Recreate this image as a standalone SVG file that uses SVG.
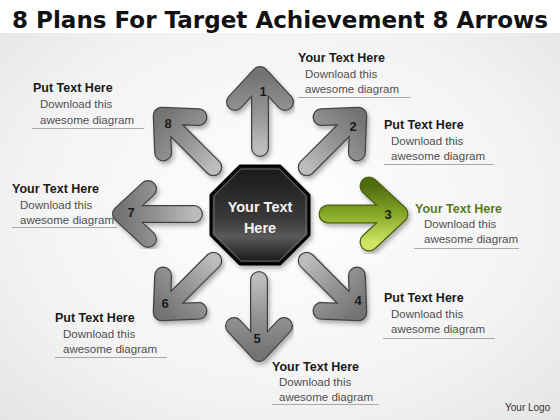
<svg xmlns="http://www.w3.org/2000/svg" width="560" height="420" viewBox="0 0 560 420">
<defs>
<radialGradient id="bg" cx="0.5" cy="0.5" r="0.75">
<stop offset="0" stop-color="#ffffff"/>
<stop offset="0.6" stop-color="#f3f3f3"/>
<stop offset="1" stop-color="#e2e2e2"/>
</radialGradient>
<linearGradient id="gray" x1="0" y1="0" x2="0" y2="1">
<stop offset="0" stop-color="#737373"/>
<stop offset="0.5" stop-color="#949494"/>
<stop offset="1" stop-color="#bcbcbc"/>
</linearGradient>
<linearGradient id="green" x1="0" y1="0" x2="1" y2="0">
<stop offset="0" stop-color="#4f6c10"/>
<stop offset="0.5" stop-color="#86a828"/>
<stop offset="1" stop-color="#cfe462"/>
</linearGradient>
<linearGradient id="oct" x1="0" y1="0" x2="0" y2="1">
<stop offset="0" stop-color="#1a1a1a"/>
<stop offset="0.55" stop-color="#3a3a3a"/>
<stop offset="0.72" stop-color="#5a5a5a"/>
<stop offset="1" stop-color="#141414"/>
</linearGradient>
<filter id="sh" x="-20%" y="-20%" width="140%" height="140%">
<feDropShadow dx="2" dy="3" stdDeviation="2" flood-color="#000" flood-opacity="0.3"/>
</filter>
</defs>
<style>
.ol{fill:none;stroke:#424242;stroke-width:18;stroke-linecap:round;stroke-linejoin:round}
.fg{fill:none;stroke:url(#gray);stroke-width:15.5;stroke-linecap:round;stroke-linejoin:round}
.olg{fill:none;stroke:#4a5e12;stroke-width:19;stroke-linecap:round;stroke-linejoin:round}
.fgg{fill:none;stroke:url(#green);stroke-width:16.5;stroke-linecap:round;stroke-linejoin:round}
.num{font-family:"Liberation Sans",Arial,sans-serif;font-weight:bold;font-size:13px;fill:#1a1a1a;text-anchor:middle}
.hd{font-family:"Liberation Sans",Arial,sans-serif;font-weight:bold;font-size:12.5px;fill:#1a1a1a}
.sub{font-family:"Liberation Sans",Arial,sans-serif;font-size:11.5px;fill:#505050}
.ln{stroke:#a8a8a8;stroke-width:1}
</style>
<rect x="0" y="0" width="560" height="420" fill="url(#bg)"/>
<rect x="0" y="0" width="560" height="33" fill="#ffffff"/>
<text x="12" y="28" font-family="'DejaVu Sans',sans-serif" font-weight="bold" font-size="23" fill="#111" textLength="536" lengthAdjust="spacingAndGlyphs">8 Plans For Target Achievement 8 Arrows</text>

<g id="connectors"></g>

<g id="arrow1">
<g filter="url(#sh)"><g transform="translate(260 214) rotate(0)">
<path class="ol" d="M0,-66 L0,-139 M-25,-112 L0,-139 L25,-112"/>
<path class="fg" d="M0,-66 L0,-139 M-25,-112 L0,-139 L25,-112"/>
</g></g>
<text class="num" x="263" y="96">1</text>
<text class="hd" x="298" y="62">Your Text Here</text>
<text class="sub" x="305" y="78">Download this</text>
<text class="sub" x="305" y="93">awesome diagram</text>
<line class="ln" x1="298" y1="97.5" x2="410" y2="97.5"/>
</g>

<g id="arrow2">
<g filter="url(#sh)"><g transform="translate(260 214) rotate(45)">
<path class="ol" d="M0,-66 L0,-139 M-25,-112 L0,-139 L25,-112"/>
<path class="fg" d="M0,-66 L0,-139 M-25,-112 L0,-139 L25,-112"/>
</g></g>
<text class="num" x="353" y="131">2</text>
<text class="hd" x="384" y="129">Put Text Here</text>
<text class="sub" x="391" y="145">Download this</text>
<text class="sub" x="391" y="160">awesome diagram</text>
<line class="ln" x1="384" y1="164.5" x2="494" y2="164.5"/>
</g>

<g id="arrow3">
<g filter="url(#sh)"><g transform="translate(260 214) rotate(90)">
<path class="olg" d="M0,-68 L0,-139 M-28,-109 L0,-139 L28,-109"/>
<path class="fgg" d="M0,-68 L0,-139 M-28,-109 L0,-139 L28,-109"/>
</g></g>
<text class="num" x="388" y="219">3</text>
<text class="hd" x="415" y="213" style="fill:#5b7a1c">Your Text Here</text>
<text class="sub" x="424" y="228">Download this</text>
<text class="sub" x="424" y="243">awesome diagram</text>
<line class="ln" x1="414" y1="248.5" x2="519" y2="248.5"/>
</g>

<g id="arrow4">
<g filter="url(#sh)"><g transform="translate(260 214) rotate(135)">
<path class="ol" d="M0,-66 L0,-139 M-25,-112 L0,-139 L25,-112"/>
<path class="fg" d="M0,-66 L0,-139 M-25,-112 L0,-139 L25,-112"/>
</g></g>
<text class="num" x="358" y="305">4</text>
<text class="hd" x="384" y="302">Put Text Here</text>
<text class="sub" x="391" y="318">Download this</text>
<text class="sub" x="391" y="333">awesome diagram</text>
<line class="ln" x1="383" y1="338.5" x2="495" y2="338.5"/>
</g>

<g id="arrow5">
<g filter="url(#sh)"><g transform="translate(259 214) rotate(180)">
<path class="ol" d="M0,-66 L0,-139 M-25,-112 L0,-139 L25,-112"/>
<path class="fg" d="M0,-66 L0,-139 M-25,-112 L0,-139 L25,-112"/>
</g></g>
<text class="num" x="257" y="343">5</text>
<text class="hd" x="272" y="371">Your Text Here</text>
<text class="sub" x="279" y="386">Download this</text>
<text class="sub" x="279" y="401">awesome diagram</text>
<line class="ln" x1="272" y1="404.5" x2="379" y2="404.5"/>
</g>

<g id="arrow6">
<g filter="url(#sh)"><g transform="translate(260 214) rotate(225)">
<path class="ol" d="M0,-66 L0,-139 M-25,-112 L0,-139 L25,-112"/>
<path class="fg" d="M0,-66 L0,-139 M-25,-112 L0,-139 L25,-112"/>
</g></g>
<text class="num" x="165" y="308">6</text>
<text class="hd" x="55" y="322">Put Text Here</text>
<text class="sub" x="63" y="338">Download this</text>
<text class="sub" x="63" y="353">awesome diagram</text>
<line class="ln" x1="55" y1="357.5" x2="167" y2="357.5"/>
</g>

<g id="arrow7">
<g filter="url(#sh)"><g transform="translate(260 214) rotate(270)">
<path class="ol" d="M0,-66 L0,-139 M-25,-112 L0,-139 L25,-112"/>
<path class="fg" d="M0,-66 L0,-139 M-25,-112 L0,-139 L25,-112"/>
</g></g>
<text class="num" x="131" y="217">7</text>
<text class="hd" x="12" y="193">Your Text Here</text>
<text class="sub" x="20" y="209">Download this</text>
<text class="sub" x="20" y="224">awesome diagram</text>
<line class="ln" x1="12" y1="227.5" x2="117" y2="227.5"/>
</g>

<g id="arrow8">
<g filter="url(#sh)"><g transform="translate(260 214) rotate(315)">
<path class="ol" d="M0,-66 L0,-139 M-25,-112 L0,-139 L25,-112"/>
<path class="fg" d="M0,-66 L0,-139 M-25,-112 L0,-139 L25,-112"/>
</g></g>
<text class="num" x="168" y="128">8</text>
<text class="hd" x="33" y="92">Put Text Here</text>
<text class="sub" x="40" y="108">Download this</text>
<text class="sub" x="40" y="124">awesome diagram</text>
<line class="ln" x1="32" y1="128.5" x2="144" y2="128.5"/>
</g>

<g id="center">
<g filter="url(#sh)">
<polygon points="240,166 280,166 309,195 309,235 280,264 240,264 211,235 211,195" fill="url(#oct)" stroke="#000" stroke-width="3" stroke-linejoin="round"/>
<polygon points="241,169 279,169 306,196 306,234 279,261 241,261 214,234 214,196" fill="none" stroke="#6a6a6a" stroke-width="1"/>
</g>
<text x="260" y="212" font-family="'Liberation Sans',Arial,sans-serif" font-weight="bold" font-size="14.5" fill="#f4f4f4" text-anchor="middle">Your Text</text>
<text x="260" y="233" font-family="'Liberation Sans',Arial,sans-serif" font-weight="bold" font-size="14.5" fill="#f4f4f4" text-anchor="middle">Here</text>
</g>

<text x="505" y="411" font-family="'Liberation Sans',Arial,sans-serif" font-size="10" fill="#333">Your Logo</text>
</svg>
